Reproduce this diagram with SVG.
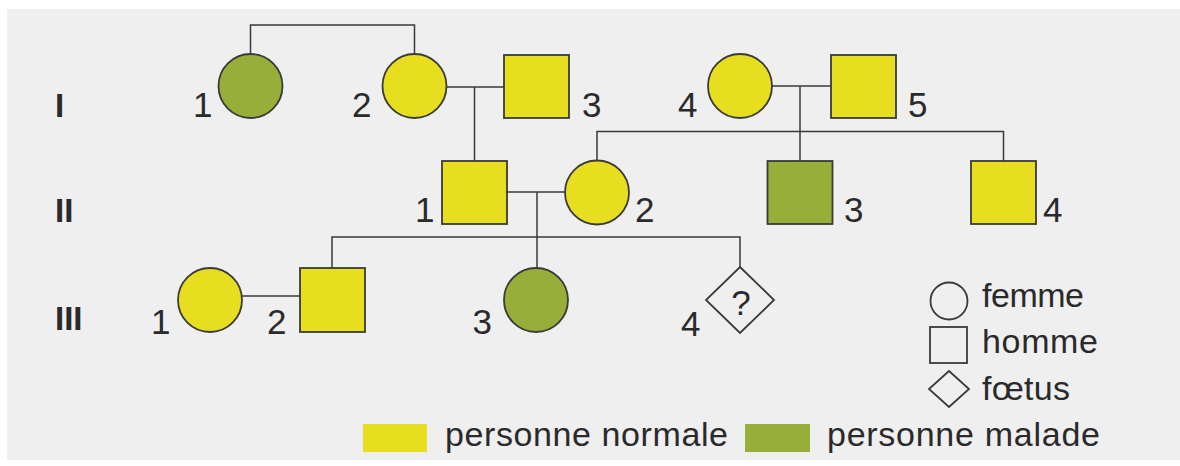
<svg xmlns="http://www.w3.org/2000/svg" width="1180" height="466" viewBox="0 0 1180 466">
<style>
.sh{stroke:#3a3a3a;stroke-width:1.8}
.n{fill:#e7de1f}
.m{fill:#97af38}
.e{fill:none}
.ln{fill:none;stroke:#3a3a3a;stroke-width:1.5}
.num{font-family:"Liberation Sans",Arial,sans-serif;font-size:35px;fill:#2a2a2a}
.gen{font-family:"Liberation Sans",Arial,sans-serif;font-size:33px;font-weight:bold;fill:#2a2a2a}
.lg{font-family:"Liberation Sans",Arial,sans-serif;font-size:34px;fill:#2a2a2a}
</style>
<rect x="0" y="0" width="1180" height="466" fill="#ffffff"/>
<rect x="7" y="9" width="1173" height="451" fill="#efeff0"/>

<g id="generations">
<text class="gen" x="55" y="117">I</text>
<text class="gen" x="55" y="222">II</text>
<text class="gen" x="55" y="330">III</text>
</g>

<g id="connectors">
<path class="ln" d="M250.5 55 V25 H414.5 V55"/>
<path class="ln" d="M446.5 87 H504"/>
<path class="ln" d="M474.5 87 V161"/>
<path class="ln" d="M772 86 H831"/>
<path class="ln" d="M800 86 V161"/>
<path class="ln" d="M597 160.5 V131.5 H1003.5 V161"/>
<path class="ln" d="M507 192 H565"/>
<path class="ln" d="M537 192 V268"/>
<path class="ln" d="M332 268 V237 H740 V267"/>
<path class="ln" d="M242 296 H300"/>
</g>

<g id="I1"><circle class="sh m" cx="250.5" cy="86" r="32"/><text class="num" x="193" y="117">1</text></g>
<g id="I2"><circle class="sh n" cx="414.5" cy="86" r="32"/><text class="num" x="352" y="117">2</text></g>
<g id="I3"><rect class="sh n" x="504" y="55" width="65" height="63"/><text class="num" x="582" y="117">3</text></g>
<g id="I4"><circle class="sh n" cx="740" cy="86" r="32"/><text class="num" x="678" y="117">4</text></g>
<g id="I5"><rect class="sh n" x="831" y="55" width="65" height="63"/><text class="num" x="908" y="117">5</text></g>

<g id="II1"><rect class="sh n" x="442" y="161" width="65" height="63"/><text class="num" x="415" y="222">1</text></g>
<g id="II2"><circle class="sh n" cx="597" cy="192.5" r="32"/><text class="num" x="635" y="222">2</text></g>
<g id="II3"><rect class="sh m" x="767.5" y="161" width="65" height="63"/><text class="num" x="844" y="222">3</text></g>
<g id="II4"><rect class="sh n" x="971" y="161" width="65" height="63"/><text class="num" x="1043" y="222">4</text></g>

<g id="III1"><circle class="sh n" cx="210" cy="300" r="32"/><text class="num" x="151" y="334">1</text></g>
<g id="III2"><rect class="sh n" x="300" y="268" width="65" height="64"/><text class="num" x="267" y="334">2</text></g>
<g id="III3"><circle class="sh m" cx="536" cy="300" r="32"/><text class="num" x="472.5" y="334">3</text></g>
<g id="III4"><polygon class="sh e" points="740,267 774,300 740,333 706,300"/><text class="num" x="741" y="315" text-anchor="middle" font-size="36">?</text><text class="num" x="681" y="336">4</text></g>

<g id="legend-shapes">
<circle class="sh e" cx="949" cy="301" r="18.5"/>
<text class="lg" x="982" y="307" textLength="102" lengthAdjust="spacing">femme</text>
<rect class="sh e" x="930" y="327" width="37" height="36"/>
<text class="lg" x="982" y="353" textLength="116" lengthAdjust="spacing">homme</text>
<polygon class="sh e" points="949,371 969,389 949,407 929,389"/>
<text class="lg" x="982" y="400" textLength="88" lengthAdjust="spacing">fœtus</text>
</g>

<g id="legend-colours">
<rect class="n" x="363" y="424" width="64" height="28"/>
<text class="lg" x="445" y="446" textLength="283" lengthAdjust="spacing">personne normale</text>
<rect class="m" x="745" y="424" width="65" height="28"/>
<text class="lg" x="827" y="446" textLength="273" lengthAdjust="spacing">personne malade</text>
</g>
</svg>
